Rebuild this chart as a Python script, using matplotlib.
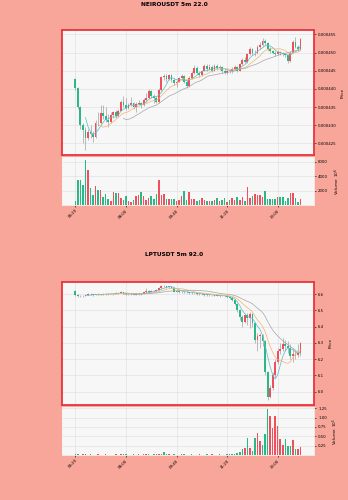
import matplotlib
matplotlib.use('Agg')
import matplotlib.pyplot as plt
import numpy as np
import pandas as pd

# x ticks (5m candles, first candle at 06:20)
tick_labels = ['06:20', '08:00', '09:40', '11:20', '13:00']
tick_pos = [0, 20, 40, 60, 80]

# ---- NEIROUSDT (prices in 1e-6) ----
neiro_first_open = 442.8
neiro_close = [440.2, 434.9, 430.0, 428.7, 426.6, 428.0, 427.5, 426.8, 430.7, 430.5,
               433.3, 432.5, 431.5, 431.0, 432.8, 433.5, 432.5, 434.0, 436.5, 435.5,
               434.8, 435.5, 436.0, 435.0, 435.8, 436.2, 435.5, 437.0, 437.5, 439.5,
               438.0, 437.5, 436.5, 439.8, 443.2, 443.5, 442.8, 443.8, 442.5, 441.5,
               442.0, 443.0, 443.5, 442.0, 440.8, 443.0, 444.5, 445.8, 444.5, 443.8,
               445.0, 446.2, 445.5, 446.0, 445.0, 446.3, 445.8, 446.0, 445.0, 444.5,
               445.0, 444.8, 445.6, 446.0, 445.0, 446.8, 448.0, 447.5, 449.5, 451.0,
               449.8, 450.0, 451.5, 452.0, 453.2, 452.5, 451.0, 450.3, 450.0, 449.5,
               450.2, 449.8, 449.5, 449.3, 447.6, 450.0, 453.0, 451.5, 451.0, 453.8]
neiro_high = [443.0, 440.5, 435.2, 430.5, 429.5, 429.0, 430.0, 428.5, 431.5, 433.5,
              435.5, 435.5, 435.0, 433.0, 433.5, 434.0, 434.2, 434.5, 437.0, 438.0,
              437.5, 436.0, 437.8, 436.5, 436.5, 436.8, 436.5, 437.5, 439.0, 440.0,
              439.8, 438.5, 438.0, 440.2, 443.6, 444.0, 444.2, 444.0, 444.0, 443.0,
              442.5, 443.4, 444.0, 443.8, 442.5, 443.5, 445.0, 446.6, 446.2, 445.0,
              445.3, 446.8, 446.9, 446.8, 446.5, 446.8, 446.9, 446.5, 446.3, 445.4,
              445.5, 445.6, 446.0, 446.5, 446.4, 447.2, 448.5, 448.8, 450.0, 451.6,
              451.3, 450.8, 452.0, 452.8, 454.0, 453.8, 452.8, 451.4, 450.8, 450.4,
              450.6, 450.5, 450.2, 450.0, 449.6, 450.4, 453.4, 454.3, 452.0, 454.0]
neiro_low = [439.8, 434.5, 429.0, 425.0, 423.3, 426.0, 426.5, 425.5, 426.5, 429.8,
             430.2, 431.8, 430.8, 429.5, 430.5, 432.0, 432.0, 432.2, 433.8, 435.0,
             434.2, 434.5, 435.2, 434.5, 433.5, 435.5, 434.8, 435.2, 436.5, 437.2,
             437.5, 436.0, 436.0, 436.2, 439.5, 442.5, 442.0, 442.5, 441.8, 441.0,
             440.5, 441.8, 442.5, 441.5, 440.2, 440.5, 442.8, 444.2, 444.0, 443.2,
             443.5, 444.8, 445.0, 445.2, 444.6, 444.8, 445.3, 445.2, 444.5, 444.0,
             444.2, 444.3, 444.5, 445.2, 444.7, 444.8, 446.5, 447.0, 447.2, 449.2,
             449.3, 449.0, 449.6, 451.0, 451.8, 452.0, 450.5, 449.8, 449.5, 449.0,
             449.2, 449.3, 449.0, 448.8, 447.2, 447.4, 449.8, 451.2, 450.5, 450.8]
# volume in units of 10^6
neiro_vol = [540, 3400, 3400, 2800, 6250, 4800, 2300, 1450, 2650, 2050,
             2050, 1100, 1550, 800, 550, 1750, 1650, 1650, 1000, 750,
             1200, 550, 450, 750, 1200, 1450, 1750, 1200, 750, 1000,
             1200, 850, 1550, 3400, 1450, 1550, 850, 850, 850, 850,
             550, 750, 1200, 1900, 750, 1750, 850, 850, 550, 750,
             1000, 750, 550, 550, 550, 750, 1000, 550, 750, 1000,
             400, 750, 1000, 750, 1100, 750, 1100, 550, 2550, 1000,
             1200, 1550, 1450, 1350, 1100, 1900, 850, 850, 850, 850,
             1100, 1100, 1100, 550, 1000, 1650, 1650, 1000, 450, 850]

# ---- LPTUSDT ----
lpt_first_open = 6.620
lpt_close = [6.595, 6.588, 6.585, 6.590, 6.595, 6.600, 6.598, 6.595, 6.598, 6.600,
             6.597, 6.600, 6.602, 6.600, 6.603, 6.601, 6.605, 6.608, 6.612, 6.605,
             6.600, 6.598, 6.600, 6.597, 6.600, 6.602, 6.600, 6.610, 6.618, 6.615,
             6.620, 6.618, 6.625, 6.635, 6.650, 6.648, 6.645, 6.646, 6.640, 6.615,
             6.618, 6.612, 6.615, 6.610, 6.612, 6.608, 6.606, 6.604, 6.600, 6.602,
             6.598, 6.596, 6.595, 6.593, 6.594, 6.590, 6.592, 6.588, 6.590, 6.585,
             6.582, 6.578, 6.565, 6.540, 6.500, 6.460, 6.430, 6.470, 6.450, 6.480,
             6.420, 6.320, 6.340, 6.350, 6.310, 6.120, 5.970, 6.020, 6.100, 6.180,
             6.250, 6.260, 6.290, 6.280, 6.270, 6.220, 6.230, 6.225, 6.235, 6.300]
lpt_high = [6.625, 6.598, 6.592, 6.596, 6.600, 6.605, 6.604, 6.600, 6.602, 6.606,
            6.603, 6.604, 6.607, 6.605, 6.607, 6.606, 6.610, 6.612, 6.618, 6.614,
            6.607, 6.603, 6.604, 6.602, 6.604, 6.607, 6.606, 6.615, 6.635, 6.622,
            6.626, 6.624, 6.630, 6.642, 6.655, 6.656, 6.652, 6.650, 6.648, 6.642,
            6.622, 6.620, 6.619, 6.616, 6.616, 6.614, 6.611, 6.609, 6.606, 6.605,
            6.604, 6.600, 6.599, 6.598, 6.597, 6.596, 6.595, 6.594, 6.593, 6.592,
            6.588, 6.584, 6.580, 6.568, 6.545, 6.505, 6.470, 6.480, 6.485, 6.490,
            6.485, 6.425, 6.360, 6.360, 6.355, 6.315, 6.130, 6.040, 6.120, 6.200,
            6.270, 6.300, 6.330, 6.320, 6.310, 6.290, 6.260, 6.250, 6.290, 6.305]
lpt_low = [6.590, 6.582, 6.580, 6.583, 6.588, 6.592, 6.594, 6.590, 6.593, 6.595,
           6.592, 6.594, 6.597, 6.596, 6.598, 6.597, 6.599, 6.603, 6.606, 6.600,
           6.595, 6.594, 6.595, 6.593, 6.594, 6.597, 6.596, 6.598, 6.608, 6.610,
           6.612, 6.613, 6.615, 6.622, 6.632, 6.642, 6.640, 6.640, 6.635, 6.610,
           6.612, 6.607, 6.608, 6.605, 6.606, 6.603, 6.601, 6.599, 6.596, 6.597,
           6.593, 6.591, 6.590, 6.588, 6.589, 6.585, 6.587, 6.583, 6.585, 6.580,
           6.576, 6.572, 6.560, 6.530, 6.490, 6.440, 6.400, 6.420, 6.410, 6.390,
           6.400, 6.300, 6.250, 6.270, 6.280, 6.100, 5.950, 5.960, 6.010, 6.090,
           6.170, 6.230, 6.250, 6.250, 6.240, 6.200, 6.180, 6.200, 6.215, 6.220]
# volume in units of 10^5
lpt_vol = [0.03, 0.02, 0.01, 0.03, 0.02, 0.01, 0.02, 0.01, 0.01, 0.02,
           0.01, 0.01, 0.02, 0.01, 0.01, 0.01, 0.02, 0.01, 0.03, 0.02,
           0.02, 0.01, 0.01, 0.02, 0.01, 0.02, 0.01, 0.03, 0.04, 0.02,
           0.01, 0.03, 0.02, 0.03, 0.04, 0.07, 0.04, 0.02, 0.01, 0.02,
           0.01, 0.01, 0.02, 0.03, 0.01, 0.01, 0.02, 0.01, 0.01, 0.02,
           0.01, 0.01, 0.02, 0.01, 0.02, 0.01, 0.01, 0.02, 0.01, 0.01,
           0.02, 0.03, 0.03, 0.03, 0.05, 0.08, 0.16, 0.20, 0.45, 0.18,
           0.12, 0.45, 0.58, 0.38, 0.27, 0.56, 1.22, 1.04, 0.72, 1.04,
           0.78, 0.42, 0.27, 0.42, 0.23, 0.23, 0.40, 0.16, 0.16, 0.21]

BG = '#f9a69a'
UP = '#f0505c'
DOWN = '#2ab887'
MA_COLORS = ['#5cb8cc', '#f2b36a', '#a5a5a5']
MA_PERIODS = [5, 10, 20]


def draw(price_rect, vol_rect, title, title_y, first_open, closes, highs, lows, vols,
         pylim, pticks, pfmt, vylim, vticks, vlabel):
    closes = np.array(closes)
    opens = np.concatenate([[first_open], closes[:-1]])
    x = np.arange(len(closes))
    up = closes >= opens
    cols = np.where(up, UP, DOWN)

    fig.text(0.5, title_y, title, ha='center', va='center', fontsize=4.2, fontweight='bold')

    ax = fig.add_axes(price_rect)
    ax.set_facecolor('#f7f7f7')
    ax.vlines(x, lows, highs, color='#8c8c8c', linewidth=0.4, zorder=2)
    body_lo = np.minimum(opens, closes)
    body_h = np.maximum(np.abs(closes - opens), (pylim[1] - pylim[0]) * 0.003)
    ax.bar(x, body_h, bottom=body_lo, width=0.72, color=cols, zorder=3)
    s = pd.Series(closes)
    for p, c in zip(MA_PERIODS, MA_COLORS):
        ax.plot(x, s.rolling(p).mean(), color=c, linewidth=0.5, zorder=4)
    ax.set_xlim(-5.3, len(x) + 4.3)
    ax.set_ylim(pylim)
    ax.set_yticks(pticks)
    ax.set_yticklabels([pfmt % t for t in pticks])
    ax.yaxis.tick_right()
    ax.yaxis.set_label_position('right')
    ax.set_ylabel('Price', fontsize=3, labelpad=3)
    ax.set_xticks(tick_pos)
    ax.tick_params(axis='x', length=0, labelbottom=False)
    ax.tick_params(axis='y', labelsize=2.8, length=1.5, width=0.4, pad=1.5)
    ax.grid(True, color='#e2e2e2', linewidth=0.5)
    ax.set_axisbelow(True)
    for sp in ax.spines.values():
        sp.set_color('#e8343f')
        sp.set_linewidth(1.3)

    av = fig.add_axes(vol_rect, sharex=ax)
    av.set_facecolor('#f7f7f7')
    av.bar(x, vols, width=0.6, color=cols, zorder=3)
    av.set_ylim(vylim)
    av.set_yticks(vticks)
    av.yaxis.tick_right()
    av.yaxis.set_label_position('right')
    av.set_ylabel(vlabel, fontsize=3, labelpad=3)
    av.set_xticks(tick_pos)
    av.set_xticklabels(tick_labels, rotation=45, ha='right', rotation_mode='anchor')
    av.tick_params(axis='x', labelsize=2.8, length=1.5, width=0.4, pad=1)
    av.tick_params(axis='y', labelsize=2.8, length=1.5, width=0.4, pad=1.5)
    av.grid(True, color='#e2e2e2', linewidth=0.5)
    av.set_axisbelow(True)
    for sp in av.spines.values():
        sp.set_color('#f2f2f2')
        sp.set_linewidth(0.6)
    return ax, av


fig = plt.figure(figsize=(3.48, 5.0), dpi=100)
fig.patch.set_facecolor(BG)

n_ticks = [425, 430, 435, 440, 445, 450, 455]
draw([0.178, 0.69, 0.724, 0.25], [0.178, 0.59, 0.724, 0.096],
     'NEIROUSDT 5m 22.0', 0.99, neiro_first_open * 1e-6,
     np.array(neiro_close) * 1e-6, np.array(neiro_high) * 1e-6, np.array(neiro_low) * 1e-6,
     neiro_vol, (421.8e-6, 456.2e-6), [t * 1e-6 for t in n_ticks], '%.6f',
     (0, 6640), [2000, 4000, 6000], 'Volume  $10^{6}$')

draw([0.178, 0.19, 0.724, 0.246], [0.178, 0.09, 0.724, 0.096],
     'LPTUSDT 5m 92.0', 0.492, lpt_first_open,
     lpt_close, lpt_high, lpt_low,
     lpt_vol, (5.918, 6.674), [6.0, 6.1, 6.2, 6.3, 6.4, 6.5, 6.6], '%.1f',
     (0, 1.285), [0.25, 0.50, 0.75, 1.00, 1.25], 'Volume  $10^{5}$')

fig.savefig('out.png', dpi=100, facecolor=BG)
